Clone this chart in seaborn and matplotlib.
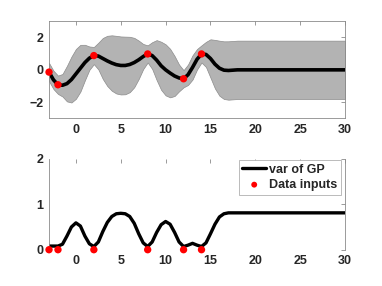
import numpy as np
import pandas as pd
import matplotlib
matplotlib.use('Agg')
import matplotlib.pyplot as plt
import seaborn as sns

# ---------------------------------------------
# Values
# ---------------------------------------------
x_grid = np.r_[np.arange(-3, 18.5, 0.5), 30]

gp_mean = [-0.14, -0.62, -0.92, -0.95, -0.85, -0.6, -0.25, 0.1, 0.45, 0.72,
           0.88, 0.85, 0.7, 0.55, 0.42, 0.32, 0.27, 0.27, 0.33, 0.45,
           0.62, 0.82, 0.98, 0.88, 0.6, 0.25, 0.0, -0.2, -0.38, -0.5,
           -0.55, -0.3, 0.15, 0.65, 0.98, 0.95, 0.7, 0.35, 0.1, -0.02,
           -0.04, -0.02, 0.0,
           0.0]

gp_var = [0.08, 0.08, 0.08, 0.12, 0.3, 0.5, 0.59, 0.52, 0.3, 0.13,
          0.07, 0.17, 0.4, 0.6, 0.73, 0.79, 0.8, 0.79, 0.73, 0.58,
          0.35, 0.15, 0.07, 0.17, 0.38, 0.55, 0.62, 0.56, 0.38, 0.17,
          0.07, 0.1, 0.14, 0.1, 0.07, 0.15, 0.35, 0.56, 0.72, 0.79,
          0.81, 0.81, 0.81,
          0.81]

x_data = [-3, -2, 2, 8, 12, 14]
y_data = [-0.14, -0.92, 0.88, 0.98, -0.55, 0.98]

x_ticks = [0, 5, 10, 15, 20, 25, 30]

df = pd.DataFrame({'x': x_grid, 'mean': gp_mean, 'var': gp_var})
df['upper'] = df['mean'] + 2 * np.sqrt(df['var'])
df['lower'] = df['mean'] - 2 * np.sqrt(df['var'])
pts = pd.DataFrame({'x': x_data, 'y': y_data, 'zero': 0.0})

# ---------------------------------------------
# Style
# ---------------------------------------------
sns.set_style('white')
plt.rcParams['font.family'] = ['Liberation Sans', 'DejaVu Sans']
plt.rcParams['font.weight'] = 'bold'
plt.rcParams['font.size'] = 9

fig = plt.figure(figsize=(3.82, 2.86), dpi=100)
ax1 = fig.add_axes([0.1283, 0.5857, 0.7749, 0.3402])
ax2 = fig.add_axes([0.1283, 0.1269, 0.7749, 0.3182])

spine_col = '#8a8a8a'
text_col = '#262626'

# ---------------------------------------------
# Top: GP mean with +/- 2 sd band
# ---------------------------------------------
ax1.fill_between(df['x'], df['lower'], df['upper'], facecolor='#b3b3b3',
                 edgecolor='#8c8c8c', linewidth=0.5)
sns.lineplot(data=df, x='x', y='mean', color='black', linewidth=2.6,
             estimator=None, ax=ax1)
sns.scatterplot(data=pts, x='x', y='y', color='red', s=28, edgecolor='none',
                ax=ax1, zorder=5, clip_on=False)
ax1.set_xlim(-3, 30)
ax1.set_ylim(-3, 3)
ax1.set_yticks([-2, 0, 2])

# ---------------------------------------------
# Bottom: GP variance
# ---------------------------------------------
sns.lineplot(data=df, x='x', y='var', color='black', linewidth=2.4,
             estimator=None, ax=ax2, label='var of GP')
sns.scatterplot(data=pts, x='x', y='zero', color='red', s=28, edgecolor='none',
                ax=ax2, zorder=5, clip_on=False, label='Data inputs')
ax2.set_xlim(-3, 30)
ax2.set_ylim(0, 2)
ax2.set_yticks([0, 1, 2])
ax2.spines['top'].set_visible(False)
ax2.spines['bottom'].set_visible(False)

leg = ax2.legend(loc='upper right', bbox_to_anchor=(0.985, 0.985), frameon=True,
                 fancybox=False, framealpha=1, edgecolor='#b0b0b0',
                 handlelength=1.9, handletextpad=0.2, borderpad=0.3,
                 labelspacing=0.25, borderaxespad=0, markerscale=0.8,
                 prop={'weight': 'bold', 'size': 9})
leg.get_frame().set_linewidth(0.6)

for ax in (ax1, ax2):
    ax.set_xticks(x_ticks)
    ax.set_xlabel('')
    ax.set_ylabel('')
    for s in ax.spines.values():
        s.set_color(spine_col)
        s.set_linewidth(0.6)
    ax.tick_params(direction='in', length=3, width=0.6, color=spine_col,
                   top=True, right=True, labelcolor=text_col, pad=4,
                   labelsize=9)
    for lab in ax.get_xticklabels() + ax.get_yticklabels():
        lab.set_fontweight('bold')

fig.savefig('out.png', dpi=100)
